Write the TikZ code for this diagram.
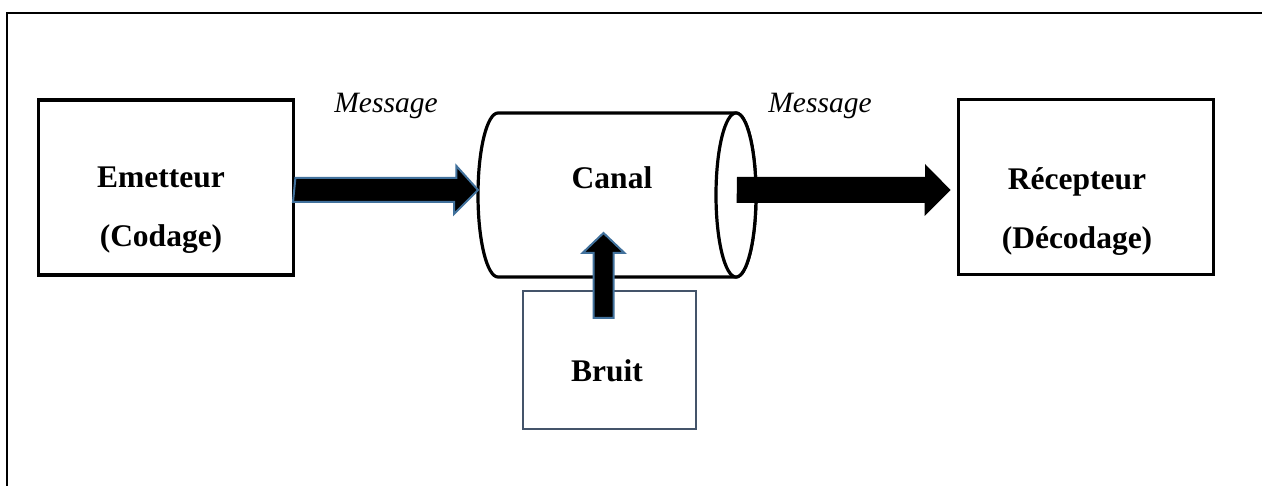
\documentclass[tikz,border=0pt]{standalone}
\usepackage{fontspec}
\setmainfont{Liberation Serif}
\usetikzlibrary{calc}
\definecolor{arrowblue}{HTML}{41719C}
\definecolor{slate}{HTML}{44546A}
\begin{document}
\begin{tikzpicture}[x=1pt,y=-1pt,
  box/.style={draw=black, line width=3.8pt, fill=white, minimum width=255pt, minimum height=175pt, inner sep=0pt},
  noisebox/.style={draw=slate, line width=2pt, fill=white, minimum width=173pt, minimum height=138pt, inner sep=0pt},
  bigtxt/.style={font=\fontsize{31.5}{58.5}\selectfont\bfseries, align=center, inner sep=0pt},
  msgtxt/.style={font=\fontsize{29.5}{34}\selectfont\itshape, inner sep=0pt, anchor=base},
  bluearrow/.style={fill=black, draw=arrowblue, line width=2pt, line join=miter},
  blackarrow/.style={fill=black, draw=none},
  cyl/.style={draw=black, line width=3.2pt, fill=white},
  outerframe/.style={draw=black, line width=2.5pt}]
\useasboundingbox (0,0) rectangle (1262,486);
\draw[outerframe] (7,492) -- (7,13) -- (1270,13);

% boxes
\node[box] (em) at (166,187.5) {};
\node[box] (rc) at (1086,187) {};
\node[bigtxt] (emt) at (161,210) {Emetteur\\(Codage)};
\node[bigtxt] (rct) at (1077,211.5) {Récepteur\\(Décodage)};

% cylinder
\draw[cyl] (498,113) -- (736,113) arc[start angle=-90, end angle=90, x radius=20, y radius=82]
  -- (498,277) arc[start angle=90, end angle=270, x radius=20, y radius=82] -- cycle;
\draw[cyl] (736,195) ellipse[x radius=20, y radius=82];
\node[bigtxt, anchor=base] (cat) at (612,189) {Canal};
\coordinate (cylL) at (478,190);
\coordinate (cylR) at (737,190);
\coordinate (cylB) at (603.5,233);

% noise
\node[noisebox] (br) at (609.5,360) {};
\node[bigtxt, anchor=base] (brt) at (607,382) {Bruit};

% labels
\node[msgtxt] (m1) at (386,113) {Message};
\node[msgtxt] (m2) at (820,113) {Message};

% arrows
\draw[bluearrow] (em.east |- cylL) ++(0,-12) -- ++(161,0) -- ++(0,-12) -- (cylL)
  -- ++(-24,24) -- ++(0,-12) -- ++(-161,0) -- cycle;
\coordinate (rtip) at ($(rc.west |- cylR)+(-6,0)$);
\draw[blackarrow] (cylR) ++(0,-13) -- ++(188,0) -- ++(0,-13) -- (rtip)
  -- ++(-26,26) -- ++(0,-13) -- ++(-188,0) -- cycle;
\draw[bluearrow] (cylB) -- ++(21,20) -- ++(-11,0) -- ++(0,65) -- ++(-20,0)
  -- ++(0,-65) -- ++(-11,0) -- cycle;
\end{tikzpicture}
\end{document}
